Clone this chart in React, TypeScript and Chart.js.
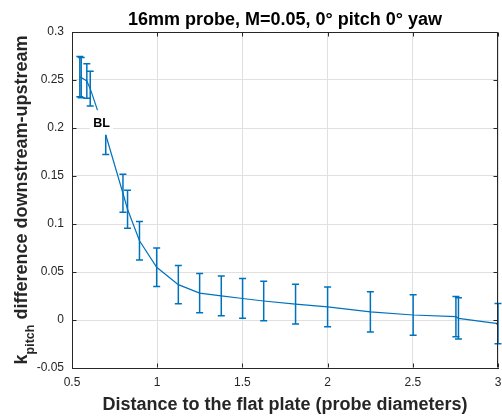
import React, { useEffect, useRef } from "react";
import { Chart, registerables } from "chart.js";

Chart.register(...registerables);

const TITLE = "16mm probe, M=0.05, 0° pitch 0° yaw";
const X_LABEL = "Distance to the flat plate (probe diameters)";
const Y_LABEL_MAIN = "k";
const Y_LABEL_SUB = "pitch";
const Y_LABEL_REST = " difference downstream-upstream";

const distance = [0.546, 0.554, 0.587, 0.607, 0.698, 0.799, 0.826, 0.896, 0.997, 1.124, 1.249, 1.376, 1.501, 1.625, 1.812, 2.0, 2.251, 2.502, 2.753, 2.768, 3.0];
const kDiff = [0.2535, 0.2525, 0.249, 0.241, 0.193, 0.132, 0.1153, 0.0825, 0.0549, 0.0368, 0.028, 0.0252, 0.0224, 0.0198, 0.0165, 0.0137, 0.0085, 0.0052, 0.0035, 0.0017, -0.0038];
const kErr = [0.021, 0.021, 0.018, 0.018, 0.0205, 0.0198, 0.0198, 0.02, 0.02, 0.02, 0.0205, 0.0207, 0.0207, 0.0205, 0.0207, 0.0207, 0.021, 0.021, 0.021, 0.0215, 0.021];

const xTicks = [0.5, 1, 1.5, 2, 2.5, 3];
const yTicks = [-0.05, 0, 0.05, 0.1, 0.15, 0.2, 0.25, 0.3];

const BL_LABEL = "BL";
const BL_X = 0.673;
const BL_Y = 0.2055;

const BLUE = "#0072BD";
const AXIS = "#262626";
const GRID = "#e0e0e0";
const FONT = "'Liberation Sans', Arial, Helvetica, sans-serif";

const decoPlugin = {
  id: "deco",
  afterDatasetsDraw(chart: any) {
    const ctx = chart.ctx as CanvasRenderingContext2D;
    const xs = chart.scales.x;
    const ys = chart.scales.y;
    const area = chart.chartArea;

    // error bars
    ctx.save();
    ctx.strokeStyle = BLUE;
    ctx.lineWidth = 1.5;
    for (let i = 0; i < distance.length; i++) {
      const px = xs.getPixelForValue(distance[i]);
      const top = ys.getPixelForValue(kDiff[i] + kErr[i]);
      const bot = ys.getPixelForValue(kDiff[i] - kErr[i]);
      ctx.beginPath();
      ctx.moveTo(px, top);
      ctx.lineTo(px, bot);
      ctx.moveTo(px - 3.5, top);
      ctx.lineTo(px + 3.5, top);
      ctx.moveTo(px - 3.5, bot);
      ctx.lineTo(px + 3.5, bot);
      ctx.stroke();
    }
    ctx.restore();

    // BL annotation with white background
    ctx.save();
    const bx = xs.getPixelForValue(BL_X);
    const by = ys.getPixelForValue(BL_Y);
    ctx.fillStyle = "#ffffff";
    ctx.fillRect(bx - 11.5, by - 12.5, 23, 24.5);
    ctx.fillStyle = "#000000";
    ctx.font = `bold 12.5px ${FONT}`;
    ctx.textAlign = "center";
    ctx.textBaseline = "middle";
    ctx.fillText(BL_LABEL, bx, by + 0.5);
    ctx.restore();

    // box top/right and inward ticks
    ctx.save();
    ctx.strokeStyle = AXIS;
    ctx.lineWidth = 1;
    const L = Math.round(area.left) + 0.5;
    const R = Math.round(area.right) - 0.5;
    const T = Math.round(area.top) + 0.5;
    const B = Math.round(area.bottom) - 0.5;
    ctx.beginPath();
    ctx.moveTo(L, T);
    ctx.lineTo(R, T);
    ctx.lineTo(R, B);
    for (const t of xTicks) {
      const p = Math.round(xs.getPixelForValue(t)) + 0.5;
      ctx.moveTo(p, B);
      ctx.lineTo(p, B - 4);
      ctx.moveTo(p, T);
      ctx.lineTo(p, T + 4);
    }
    for (const t of yTicks) {
      const p = Math.round(ys.getPixelForValue(t)) + 0.5;
      ctx.moveTo(L, p);
      ctx.lineTo(L + 4, p);
      ctx.moveTo(R, p);
      ctx.lineTo(R - 4, p);
    }
    ctx.stroke();
    ctx.restore();

    // titles
    ctx.save();
    const cx = (area.left + area.right) / 2;
    ctx.fillStyle = "#000000";
    ctx.font = `bold 18px ${FONT}`;
    ctx.textAlign = "center";
    ctx.textBaseline = "alphabetic";
    ctx.fillText(TITLE, cx, 25);
    ctx.fillStyle = AXIS;
    ctx.fillText(X_LABEL, cx, 410);

    // y label with subscript
    const mainFont = `bold 18px ${FONT}`;
    const subFont = `bold 12.5px ${FONT}`;
    ctx.font = mainFont;
    const wK = ctx.measureText(Y_LABEL_MAIN).width;
    const wRest = ctx.measureText(Y_LABEL_REST).width;
    ctx.font = subFont;
    const wSub = ctx.measureText(Y_LABEL_SUB).width;
    const total = wK + wSub + wRest;
    const cy = (area.top + area.bottom) / 2;
    ctx.translate(27, cy + total / 2);
    ctx.rotate(-Math.PI / 2);
    ctx.textAlign = "left";
    ctx.font = mainFont;
    ctx.fillText(Y_LABEL_MAIN, 0, 0);
    ctx.font = subFont;
    ctx.fillText(Y_LABEL_SUB, wK, 7);
    ctx.font = mainFont;
    ctx.fillText(Y_LABEL_REST, wK + wSub, 0);
    ctx.restore();
  },
};

const fmt = (v: number | string) => String(parseFloat(Number(v).toFixed(4)));

export default function App() {
  const ref = useRef<HTMLCanvasElement | null>(null);
  useEffect(() => {
    if (!ref.current) return;
    const chart = new Chart(ref.current, {
      type: "scatter",
      data: {
        datasets: [
          {
            data: distance.map((x, i) => ({ x, y: kDiff[i] })),
            showLine: true,
            borderColor: BLUE,
            backgroundColor: "#000000",
            borderWidth: 1.2,
            pointRadius: distance.map((_, i) => (i === distance.length - 1 ? 1.5 : 0)),
            pointBorderWidth: 0,
            tension: 0,
          },
        ],
      },
      options: {
        responsive: false,
        animation: false,
        events: [],
        layout: { padding: { top: 32, right: 1, left: 0, bottom: 0 } },
        plugins: { legend: { display: false }, title: { display: false }, tooltip: { enabled: false } },
        scales: {
          x: {
            type: "linear",
            min: 0.5,
            max: 3,
            afterFit: (s: any) => {
              s.height = 48;
              s.paddingLeft = 0;
              s.paddingRight = 0;
            },
            afterBuildTicks: (s: any) => {
              s.ticks = xTicks.map((v) => ({ value: v }));
            },
            ticks: {
              callback: fmt,
              color: AXIS,
              font: { family: FONT, size: 12 },
              padding: 7,
              maxRotation: 0,
              autoSkip: false,
            },
            grid: { color: GRID, drawTicks: false, lineWidth: 1 },
            border: { color: AXIS, width: 1 },
          },
          y: {
            type: "linear",
            min: -0.05,
            max: 0.3,
            afterFit: (s: any) => {
              s.width = 72;
              s.paddingTop = 0;
              s.paddingBottom = 0;
            },
            afterBuildTicks: (s: any) => {
              s.ticks = yTicks.map((v) => ({ value: v }));
            },
            ticks: {
              callback: fmt,
              color: AXIS,
              font: { family: FONT, size: 12 },
              padding: 8,
              autoSkip: false,
            },
            grid: { color: GRID, drawTicks: false, lineWidth: 1 },
            border: { color: AXIS, width: 1 },
          },
        },
      },
      plugins: [decoPlugin],
    });
    return () => chart.destroy();
  }, []);
  return (
    <div style={{ position: "absolute", left: 0, top: 0, width: 502, height: 416, background: "#fff" }}>
      <canvas ref={ref} width={502} height={416} style={{ display: "block" }} />
    </div>
  );
}
